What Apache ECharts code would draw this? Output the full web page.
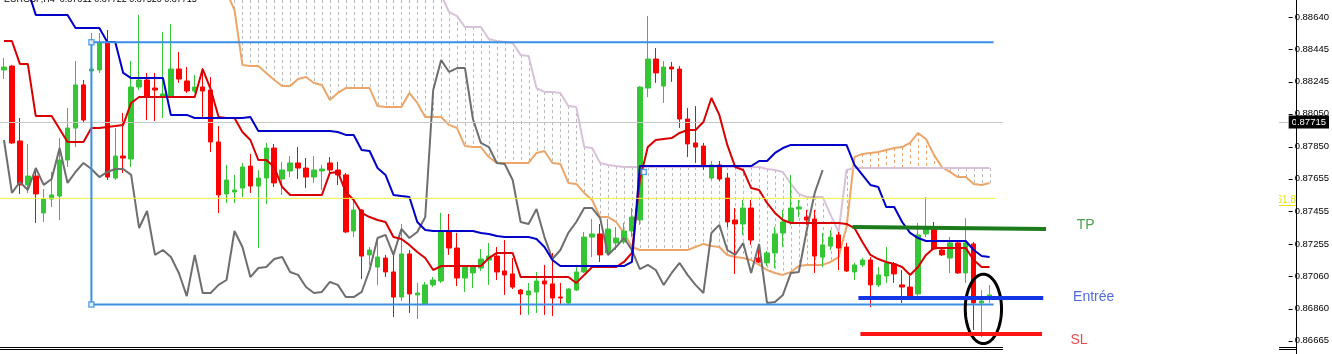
<!DOCTYPE html>
<html>
<head>
<meta charset="utf-8">
<script src="https://cdn.jsdelivr.net/npm/echarts@6.0.0/dist/echarts.min.js"></script>
<style>
html,body{margin:0;padding:0;background:#ffffff;overflow:hidden}
#chart{width:1332px;height:354px}
</style>
</head>
<body>
<div id="chart"></div>
<script>
// ===================== DATA =====================
const titleText = 'EURGBP,H4  0.87611 0.87722 0.87520 0.87715';
const barSlots = 162;                       // H4 bar slots across the window (incl. empty future area)
const bars = Array.from({length: barSlots}, (_, i) => String(i));

// candles: [open, close, low, high]
const candles = [
 [0.88317,0.88335,0.88262,0.88390],[0.88341,0.87872,0.87866,0.88348],[0.87884,0.87616,0.87561,0.88024],[0.87616,0.87670,0.87567,0.87866],[0.87670,0.87561,0.87384,0.87719],
 [0.87445,0.87530,0.87390,0.87591],[0.87530,0.87555,0.87481,0.87695],[0.87548,0.87768,0.87402,0.87902],[0.87768,0.87963,0.87725,0.88085],[0.87963,0.88226,0.87847,0.88372],
 [0.88226,0.88012,0.88000,0.88256],[0.88311,0.88323,0.88287,0.88543],[0.88317,0.88482,0.88299,0.88543],[0.88482,0.87664,0.87646,0.88561],[0.87658,0.87792,0.87646,0.87963],
 [0.87792,0.87780,0.87689,0.88055],[0.87774,0.88213,0.87725,0.88372],[0.88213,0.88256,0.88195,0.88653],[0.88256,0.88152,0.88012,0.88299],[0.88207,0.88195,0.88006,0.88299],
 [0.88158,0.88171,0.88024,0.88549],[0.88158,0.88323,0.88152,0.88598],[0.88323,0.88262,0.88238,0.88427],[0.88250,0.88189,0.88177,0.88335],[0.88189,0.88213,0.88177,0.88287],
 [0.88213,0.88189,0.88030,0.88329],[0.88195,0.87878,0.87817,0.88274],[0.87878,0.87555,0.87445,0.87975],[0.87561,0.87646,0.87506,0.87738],[0.87573,0.87585,0.87506,0.87677],
 [0.87597,0.87725,0.87542,0.87750],[0.87731,0.87609,0.87567,0.87805],[0.87609,0.87658,0.87231,0.87707],[0.87658,0.87841,0.87500,0.87872],[0.87841,0.87628,0.87603,0.87866],
 [0.87652,0.87707,0.87555,0.87756],[0.87701,0.87750,0.87664,0.87792],[0.87750,0.87719,0.87652,0.87847],[0.87719,0.87664,0.87597,0.87780],[0.87664,0.87707,0.87628,0.87792],
 [0.87701,0.87713,0.87585,0.87738],[0.87750,0.87707,0.87689,0.87786],[0.87707,0.87677,0.87616,0.87756],[0.87677,0.87329,0.87323,0.87689],[0.87335,0.87463,0.87298,0.87536],
 [0.87463,0.87182,0.87042,0.87469],[0.87189,0.87219,0.87128,0.87237],[0.87115,0.87176,0.87006,0.87298],[0.87170,0.87085,0.87054,0.87189],[0.87085,0.86932,0.86810,0.87201],
 [0.86932,0.87195,0.86908,0.87378],[0.87195,0.86951,0.86835,0.87219],[0.86945,0.86957,0.86798,0.87018],[0.86890,0.87006,0.86884,0.87024],[0.87006,0.87036,0.86993,0.87054],
 [0.87030,0.87329,0.87018,0.87445],[0.87329,0.87231,0.87189,0.87439],[0.87231,0.87048,0.86999,0.87323],[0.87048,0.87115,0.86963,0.87128],[0.87079,0.87115,0.86987,0.87121],
 [0.87109,0.87164,0.87091,0.87225],[0.87158,0.87182,0.87006,0.87262],[0.87182,0.87085,0.87036,0.87237],[0.87091,0.87067,0.86945,0.87280],[0.87073,0.86993,0.86981,0.87170],
 [0.86975,0.86951,0.86823,0.86981],[0.86945,0.86969,0.86823,0.87018],[0.86963,0.87030,0.86835,0.87085],[0.87030,0.87012,0.86823,0.87128],[0.87012,0.86926,0.86816,0.87201],
 [0.86932,0.86926,0.86890,0.87018],[0.86896,0.86981,0.86890,0.86987],[0.86975,0.87085,0.86969,0.87115],[0.87085,0.87298,0.87079,0.87329],[0.87298,0.87317,0.87176,0.87408],
 [0.87317,0.87189,0.87146,0.87378],[0.87201,0.87347,0.87189,0.87408],[0.87262,0.87292,0.87219,0.87359],[0.87268,0.87335,0.87256,0.87384],[0.87335,0.87420,0.87298,0.87475],
 [0.87402,0.88213,0.87372,0.88219],[0.88207,0.88384,0.88152,0.88646],[0.88384,0.88299,0.88238,0.88451],[0.88219,0.88335,0.88116,0.88372],[0.88335,0.88323,0.88244,0.88366],
 [0.88323,0.88018,0.87963,0.88341],[0.88018,0.87866,0.87786,0.88085],[0.87872,0.87847,0.87750,0.88097],[0.87853,0.87738,0.87707,0.87872],[0.87658,0.87738,0.87646,0.87762],
 [0.87738,0.87652,0.87640,0.87762],[0.87658,0.87390,0.87359,0.87689],[0.87402,0.87378,0.87073,0.87475],[0.87378,0.87475,0.87311,0.87524],[0.87475,0.87280,0.87250,0.87524],
 [0.87170,0.87146,0.87140,0.87250],[0.87140,0.87201,0.87121,0.87213],[0.87201,0.87317,0.87109,0.87359],[0.87323,0.87390,0.87237,0.87463],[0.87390,0.87475,0.87372,0.87677],
 [0.87469,0.87481,0.87420,0.87524],[0.87420,0.87402,0.87372,0.87463],[0.87408,0.87182,0.87079,0.87463],[0.87176,0.87250,0.87115,0.87323],[0.87243,0.87298,0.87219,0.87341],
 [0.87311,0.87231,0.87097,0.87329],[0.87237,0.87091,0.87085,0.87262],[0.87085,0.87128,0.87036,0.87140],[0.87128,0.87158,0.87115,0.87170],[0.87158,0.87006,0.86871,0.87176],
 [0.87006,0.87067,0.86993,0.87115],[0.87060,0.87140,0.87018,0.87237],[0.87134,0.87073,0.87018,0.87146],[0.87006,0.86993,0.86896,0.87097],[0.86993,0.86938,0.86926,0.87060],
 [0.86951,0.87311,0.86938,0.87384],[0.87317,0.87347,0.87298,0.87542],[0.87347,0.87225,0.87219,0.87390],[0.87219,0.87189,0.87182,0.87231],[0.87170,0.87262,0.87079,0.87298],
 [0.87262,0.87079,0.87073,0.87268],[0.87079,0.87262,0.87018,0.87414],[0.87256,0.86896,0.86731,0.87268],[0.86896,0.86908,0.86688,0.86975],[0.86932,0.86945,0.86896,0.87006]
];

const tenkan = [
 0.88494,0.88494,0.88354,0.88354,0.88036,0.88036,0.88036,0.87957,0.87878,0.87878,
 0.87878,0.87963,0.87963,0.87969,0.87975,0.87982,0.88116,0.88152,0.88152,0.88152,
 0.88152,0.88152,0.88152,0.88152,0.88152,0.88323,0.88201,0.88030,0.88024,0.88024,
 0.87939,0.87890,0.87768,0.87768,0.87725,0.87603,0.87555,0.87555,0.87555,0.87555,
 0.87555,0.87689,0.87695,0.87573,0.87524,0.87445,0.87420,0.87402,0.87390,0.87298,
 0.87286,0.87250,0.87207,0.87170,0.87097,0.87121,0.87121,0.87121,0.87121,0.87121,
 0.87121,0.87170,0.87201,0.87201,0.87201,0.87054,0.87054,0.87054,0.87054,0.87054,
 0.87054,0.87054,0.87018,0.87067,0.87115,0.87115,0.87115,0.87115,0.87146,0.87201,
 0.87646,0.87847,0.87890,0.87896,0.87902,0.87933,0.87951,0.87951,0.88000,0.88146,
 0.88043,0.87860,0.87725,0.87707,0.87597,0.87585,0.87506,0.87445,0.87402,0.87384,
 0.87384,0.87384,0.87384,0.87384,0.87384,0.87384,0.87378,0.87353,0.87268,0.87189,
 0.87164,0.87146,0.87134,0.87115,0.87067,0.87115,0.87189,0.87231,0.87231,0.87231,
 0.87231,0.87231,0.87158,0.87115,0.87115
];

const kijun = [
 0.88805,0.88805,0.88805,0.88805,0.88653,0.88653,0.88653,0.88653,0.88653,0.88573,
 0.88573,0.88573,0.88573,0.88488,0.88488,0.88299,0.88268,0.88268,0.88268,0.88268,
 0.88268,0.88043,0.88043,0.88043,0.88024,0.88024,0.88024,0.88024,0.88024,0.88024,
 0.88024,0.88030,0.87945,0.87945,0.87945,0.87945,0.87945,0.87945,0.87945,0.87945,
 0.87945,0.87945,0.87939,0.87921,0.87921,0.87829,0.87823,0.87719,0.87677,0.87555,
 0.87548,0.87542,0.87390,0.87341,0.87335,0.87335,0.87335,0.87335,0.87335,0.87335,
 0.87323,0.87317,0.87304,0.87298,0.87298,0.87298,0.87298,0.87286,0.87237,0.87158,
 0.87121,0.87121,0.87121,0.87121,0.87121,0.87121,0.87121,0.87121,0.87121,0.87146,
 0.87731,0.87731,0.87731,0.87731,0.87731,0.87731,0.87731,0.87731,0.87731,0.87731,
 0.87731,0.87731,0.87731,0.87731,0.87731,0.87762,0.87762,0.87811,0.87841,0.87860,
 0.87860,0.87860,0.87860,0.87860,0.87860,0.87860,0.87860,0.87738,0.87677,0.87616,
 0.87603,0.87481,0.87481,0.87390,0.87323,0.87292,0.87274,0.87274,0.87274,0.87274,
 0.87274,0.87274,0.87219,0.87182,0.87176
];

const chikou = [
 0.87890,0.87567,0.87634,0.87585,0.87719,0.87616,0.87652,0.87841,0.87628,0.87695,
 0.87750,0.87713,0.87664,0.87695,0.87713,0.87713,0.87677,0.87353,0.87457,0.87189,
 0.87219,0.87176,0.87079,0.86938,0.87189,0.86957,0.86957,0.87006,0.87036,0.87335,
 0.87237,0.87054,0.87109,0.87115,0.87164,0.87176,0.87085,0.87067,0.86993,0.86957,
 0.86963,0.87024,0.87006,0.86932,0.86932,0.86963,0.87097,0.87292,0.87311,0.87189,
 0.87347,0.87292,0.87329,0.87420,0.88195,0.88378,0.88305,0.88329,0.88329,0.88018,
 0.87872,0.87847,0.87750,0.87744,0.87646,0.87390,0.87378,0.87469,0.87298,0.87164,
 0.87219,0.87323,0.87390,0.87475,0.87475,0.87414,0.87189,0.87237,0.87292,0.87219,
 0.87103,0.87128,0.87097,0.87006,0.87079,0.87140,0.87067,0.87006,0.86957,0.87323,
 0.87372,0.87219,0.87189,0.87262,0.87079,0.87256,0.86896,0.86902,0.86945,0.87079,
 0.87085,0.87341,0.87567,0.87707
];

const spanA = [
 null,null,null,null,null,null,null,null,null,null,
 null,null,null,null,null,null,null,null,null,null,
 null,null,null,null,null,null,null,null,0.88793,0.88683,
 0.88348,0.88341,0.88341,0.88299,0.88256,0.88219,0.88219,0.88262,0.88274,0.88238,
 0.88226,0.88134,0.88177,0.88207,0.88207,0.88207,0.88207,0.88097,0.88091,0.88091,
 0.88091,0.88177,0.88116,0.88030,0.88030,0.88030,0.87982,0.87963,0.87853,0.87847,
 0.87847,0.87786,0.87750,0.87750,0.87750,0.87750,0.87750,0.87811,0.87823,0.87750,
 0.87744,0.87628,0.87622,0.87567,0.87524,0.87420,0.87420,0.87390,0.87323,0.87237,
 0.87219,0.87219,0.87219,0.87219,0.87219,0.87219,0.87219,0.87237,0.87256,0.87243,
 0.87237,0.87189,0.87176,0.87170,0.87158,0.87128,0.87097,0.87079,0.87067,0.87085,
 0.87121,0.87128,0.87128,0.87128,0.87146,0.87176,0.87359,0.87786,0.87805,0.87811,
 0.87817,0.87829,0.87841,0.87847,0.87872,0.87933,0.87896,0.87799,0.87725,0.87695,
 0.87664,0.87664,0.87622,0.87616,0.87628
];

const spanB = [
 null,null,null,null,null,null,null,null,null,null,
 null,null,null,null,null,null,null,null,null,null,
 null,null,null,null,null,null,null,null,null,0.88897,
 0.88897,0.88897,0.88897,0.88897,0.88897,0.88897,0.88897,0.88897,0.88897,0.88897,
 0.88897,0.88897,0.88897,0.88897,0.88897,0.88897,0.88897,0.88897,0.88897,0.88897,
 0.88897,0.88897,0.88897,0.88897,0.88897,0.88775,0.88671,0.88646,0.88579,0.88579,
 0.88579,0.88506,0.88494,0.88488,0.88482,0.88409,0.88402,0.88207,0.88183,0.88183,
 0.88177,0.88097,0.88091,0.87847,0.87841,0.87750,0.87738,0.87731,0.87725,0.87725,
 0.87725,0.87725,0.87725,0.87725,0.87725,0.87725,0.87725,0.87725,0.87725,0.87725,
 0.87725,0.87725,0.87725,0.87725,0.87725,0.87725,0.87713,0.87707,0.87695,0.87622,
 0.87561,0.87542,0.87542,0.87542,0.87433,0.87329,0.87707,0.87719,0.87719,0.87719,
 0.87719,0.87719,0.87719,0.87719,0.87719,0.87719,0.87719,0.87719,0.87719,0.87719,
 0.87719,0.87719,0.87719,0.87719,0.87719
];

// price scale
const priceMin = 0.866334, priceMax = 0.88744;
const priceTicks = [0.8864, 0.88445, 0.88245, 0.8805, 0.8785, 0.87655, 0.87455, 0.87255, 0.8706, 0.8686, 0.86665];
const bidPrice = 0.87715;

// drawn objects (bar index, price)
const fiboLevel = [[-0.5, 0.87534], [124.75, 0.87534]];
const fiboText = '61.8';
const boxPath = [[124.5, 0.88486], [11, 0.88486], [11, 0.86887], [124.5, 0.86887]];
const anchorPoints = [[11, 0.88486], [11, 0.86887], [80.5, 0.87695]];
const tpLine = [[106.75, 0.87360], [131.1, 0.87347]];
const entryLine = [[107.5, 0.86926], [130.75, 0.86926]];
const slLine = [[107.75, 0.86707], [130.6, 0.86707]];
const circleBounds = [[120.94, 125.5, 0.87071, 0.86648]];
const tpText = [{name: 'TP', value: [136.1, 0.87372]}];
const entryText = [{name: 'Entrée', value: [137.1, 0.86929]}];
const slText = [{name: 'SL', value: [135.25, 0.86670]}];

// ===================== CHART =====================
const cloudData = spanA.map((a, i) => (a != null && spanB[i] != null) ? [i, a, spanB[i]] : null).filter(Boolean);
const tickData = priceTicks.map(p => [0, p]);
const FONT = '"Liberation Sans", Arial, sans-serif';

const chart = echarts.init(document.getElementById('chart'), null, {renderer: 'canvas'});

function lineSeries(data, color, width, z, xi) {
  return {type: 'line', data: data, xAxisIndex: xi || 0, yAxisIndex: 0, symbol: 'none', showSymbol: false,
    lineStyle: {color: color, width: width}, itemStyle: {color: color}, z: z, silent: true,
    connectNulls: false, emphasis: {disabled: true}};
}
function textSeries(data, color) {
  return {type: 'scatter', xAxisIndex: 1, yAxisIndex: 0, data: data, symbolSize: 0, z: 100, silent: true,
    itemStyle: {color: 'transparent'},
    label: {show: true, position: 'inside', formatter: '{b}', color: color, fontSize: 14, fontFamily: FONT}};
}

const option = {
  animation: false,
  backgroundColor: '#ffffff',
  grid: {left: 0, top: 0, width: 1296, height: 346, containLabel: false},
  xAxis: [
    {type: 'category', data: bars, show: false, boundaryGap: true},
    {type: 'value', min: -0.5, max: barSlots - 0.5, show: false}
  ],
  yAxis: {
    type: 'value', position: 'right', min: priceMin, max: priceMax, scale: true,
    splitLine: {show: false},
    axisLine: {show: false},
    axisTick: {show: false},
    axisLabel: {show: true, customValues: priceTicks, margin: 7, color: '#000', fontSize: 9.5, fontFamily: FONT,
      formatter: v => v.toFixed(5)}
  },
  graphic: [
    {type: 'line', shape: {x1: 0, y1: 347.5, x2: 1296, y2: 347.5}, style: {stroke: '#000', lineWidth: 1}, z: 40, silent: true},
    {type: 'line', shape: {x1: 0, y1: 349.5, x2: 1296, y2: 349.5}, style: {stroke: '#000', lineWidth: 1}, z: 40, silent: true},
    {type: 'text', x: 1296, y: 200, style: {text: fiboText, font: '10px ' + FONT, fill: '#e3e300', align: 'right', verticalAlign: 'middle'}, z: 40, silent: true},
    {type: 'line', shape: {x1: 1276, y1: 205.5, x2: 1296, y2: 205.5}, style: {stroke: '#e3e300', lineWidth: 1}, z: 40, silent: true},
    {type: 'rect', shape: {x: 1003, y: 0, width: 276, height: 354}, style: {fill: '#ffffff'}, z: 50, silent: true},
    {type: 'line', shape: {x1: 1296.5, y1: 0, x2: 1296.5, y2: 354}, style: {stroke: '#000', lineWidth: 1}, z: 60, silent: true},
    {type: 'text', x: 4, y: 0, style: {text: titleText, font: '9px ' + FONT, fill: '#000', verticalAlign: 'middle'}, z: 60, silent: true}
  ],
  series: [
    {
      type: 'custom', name: 'cloud', xAxisIndex: 0, yAxisIndex: 0, data: cloudData, z: 1, silent: true,
      encode: {x: 0, y: [1, 2]},
      renderItem: function (params, api) {
        const i = api.value(0), a = api.value(1), b = api.value(2);
        const pa = api.coord([i, a]), pb = api.coord([i, b]);
        const cs = params.coordSys;
        const y1 = Math.max(Math.min(pa[1], pb[1]), cs.y);
        const y2 = Math.min(Math.max(pa[1], pb[1]), cs.y + cs.height);
        if (y2 <= y1) return null;
        const x = Math.round(pa[0]) + 0.5;
        return {type: 'line', shape: {x1: x, y1: y1, x2: x, y2: y2},
          style: {stroke: a > b ? '#e6a46a' : '#b9b9b9', lineWidth: 1, lineDash: [3, 3]}};
      }
    },
    lineSeries(spanA, '#eca66a', 2, 2),
    lineSeries(spanB, '#d9c2d9', 2, 2),
    {
      type: 'candlestick', xAxisIndex: 0, yAxisIndex: 0, data: candles, barWidth: 5, z: 3, silent: true,
      itemStyle: {color: '#35c635', color0: '#ff0000', borderColor: '#35c635', borderColor0: '#ff0000', borderWidth: 1},
      markLine: {
        silent: true, symbol: ['none', 'none'], animation: false,
        data: [{yAxis: bidPrice}],
        lineStyle: {color: '#c6c6c6', width: 1, type: 'solid'},
        label: {show: true, position: 'end', distance: 1, formatter: bidPrice.toFixed(5),
          backgroundColor: '#000', color: '#fff', fontSize: 9.5, fontFamily: FONT, padding: [2, 3, 1, 3]}
      }
    },
    lineSeries(chikou, '#6e6e6e', 2, 4),
    lineSeries(tenkan, '#d80000', 2, 5),
    lineSeries(kijun, '#0000c8', 2, 5),
    lineSeries(fiboLevel, '#f2f23c', 1, 6, 1),
    lineSeries(boxPath, '#3a8fe3', 2, 6, 1),
    {type: 'scatter', xAxisIndex: 1, yAxisIndex: 0, data: anchorPoints, symbol: 'rect', symbolSize: 5, z: 7, silent: true,
      itemStyle: {color: '#ffffff', borderColor: '#3a8fe3', borderWidth: 1.5}},
    lineSeries(tpLine, '#1c7c1c', 4, 100, 1),
    lineSeries(entryLine, '#1236e6', 4, 100, 1),
    lineSeries(slLine, '#ff1414', 4, 100, 1),
    {
      type: 'custom', xAxisIndex: 1, yAxisIndex: 0, data: circleBounds, z: 100, silent: true,
      encode: {x: [0, 1], y: [2, 3]},
      renderItem: function (params, api) {
        const p1 = api.coord([api.value(0), api.value(2)]);
        const p2 = api.coord([api.value(1), api.value(3)]);
        const cx = (p1[0] + p2[0]) / 2, cy = (p1[1] + p2[1]) / 2;
        const rx = Math.abs(p2[0] - p1[0]) / 2, ry = Math.abs(p2[1] - p1[1]) / 2;
        const pts = [];
        for (let k = 0; k <= 96; k++) {
          const t = k / 96 * Math.PI * 2;
          pts.push([cx + rx * Math.cos(t), cy + ry * Math.sin(t)]);
        }
        return {type: 'polyline', shape: {points: pts}, style: {fill: 'none', stroke: '#000', lineWidth: 3}};
      }
    },
    {
      // price-axis tick marks (outside, to the right of the axis line)
      type: 'custom', xAxisIndex: 1, yAxisIndex: 0, data: tickData, z: 60, silent: true, clip: false,
      encode: {x: 0, y: 1},
      renderItem: function (params, api) {
        const y = Math.round(api.coord([0, api.value(1)])[1]) + 0.5;
        const xr = params.coordSys.x + params.coordSys.width;
        return {type: 'line', shape: {x1: xr + 1, y1: y, x2: xr + 5, y2: y}, style: {stroke: '#000', lineWidth: 1}};
      }
    },
    textSeries(tpText, '#1e8a1e'),
    textSeries(entryText, '#2446d0'),
    textSeries(slText, '#e41c1c')
  ]
};
chart.setOption(option);
</script>
</body>
</html>
